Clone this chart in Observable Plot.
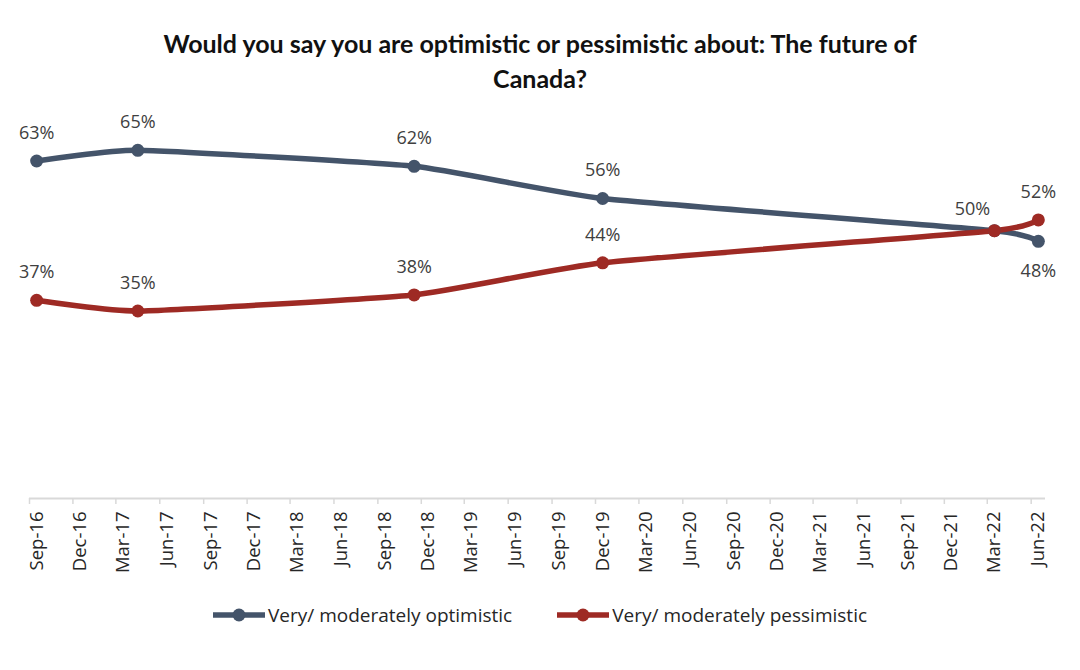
<!DOCTYPE html>
<html>
<head>
<meta charset="utf-8">
<script src="https://cdn.jsdelivr.net/npm/d3@7"></script>
<script src="https://cdn.jsdelivr.net/npm/@observablehq/plot@0.6"></script>
<style>
  html, body { margin: 0; padding: 0; background: #fff; }
  body { width: 1080px; height: 670px; overflow: hidden; font-family: "Open Sans", sans-serif; }
  .title {
    font-family: Lato, sans-serif; font-weight: bold; font-size: 25px; line-height: 35px;
    color: #111; text-align: center; padding-top: 26px; width: 1080px;
  }
  #chart svg { display: block; overflow: visible; }
  .legend {
    display: flex; justify-content: center; align-items: center; gap: 45px;
    font-size: 19px; color: #262626; margin-top: 14px;
  }
  .legend .item { display: flex; align-items: center; gap: 3px; }
  .legend svg { display: block; }
</style>
</head>
<body>
<div class="title">Would you say you are optimistic or pessimistic about: The future of<br>Canada?</div>
<div id="chart"></div>
<div class="legend" id="legend"></div>
<script>
// Survey waves (month of fieldwork) and share of respondents, %
const surveyMonths = ["2016-09", "2017-04", "2018-11", "2019-12", "2022-03", "2022-06"];
const optimistic   = [63, 65, 62, 56, 50, 48];
const pessimistic  = [37, 35, 38, 44, 50, 52];

const seriesNames  = ["Very/ moderately optimistic", "Very/ moderately pessimistic"];
const seriesColors = ["#44546a", "#9e2a24"];

// Quarterly axis labels
const tickLabels = [
  "Sep-16", "Dec-16", "Mar-17", "Jun-17", "Sep-17", "Dec-17", "Mar-18", "Jun-18",
  "Sep-18", "Dec-18", "Mar-19", "Jun-19", "Sep-19", "Dec-19", "Mar-20", "Jun-20",
  "Sep-20", "Dec-20", "Mar-21", "Jun-21", "Sep-21", "Dec-21", "Mar-22", "Jun-22"
];

const parseMonth = d3.utcParse("%Y-%m");
const parseLabel = d3.utcParse("%b-%y");
// each month is a band on the date axis; values sit in its middle
const midMonth = d => d3.utcDay.offset(d, 15);

const rows = surveyMonths.map((m, i) => ({
  date: midMonth(parseMonth(m)),
  optimistic: optimistic[i],
  pessimistic: pessimistic[i]
}));
const long = rows.flatMap(r => [
  {date: r.date, series: seriesNames[0], value: r.optimistic, tie: r.optimistic === r.pessimistic},
  {date: r.date, series: seriesNames[1], value: r.pessimistic, tie: r.optimistic === r.pessimistic}
]);
const last = rows[rows.length - 1].date;

const quarterStarts = tickLabels.map(parseLabel);
const labelDates = quarterStarts.map(midMonth);
const labelByTime = new Map(labelDates.map((d, i) => [+d, tickLabels[i]]));

const pct = d => `${d.value}%`;
const optRows = long.filter(d => d.series === seriesNames[0]);
const pesRows = long.filter(d => d.series === seriesNames[1]);
const labelStyle = {x: "date", y: "value", text: pct, fontSize: 18, fill: "#404040"};

const chart = Plot.plot({
  width: 1080,
  height: 492,
  marginLeft: 29,
  marginRight: 35,
  marginTop: 27,
  marginBottom: 90,
  style: {fontFamily: "Open Sans, sans-serif", background: "#fff", overflow: "visible"},
  x: {type: "utc", domain: [quarterStarts[0], d3.utcMonth.offset(quarterStarts[quarterStarts.length - 1], 1)]},
  y: {domain: [0, 70], axis: null},
  color: {domain: seriesNames, range: seriesColors},
  marks: [
    Plot.ruleY([0], {stroke: "#d9d9d9", strokeWidth: 2}),
    Plot.axisX({ticks: quarterStarts, tickSize: 6, tickFormat: () => "", stroke: "#d9d9d9", strokeWidth: 1.5, label: null}),
    Plot.axisX({
      ticks: labelDates, tickSize: 0, tickPadding: 13, tickRotate: -90,
      tickFormat: d => labelByTime.get(+d), fontSize: 18.5, fill: "#262626", label: null
    }),
    Plot.line(long, {x: "date", y: "value", z: "series", stroke: "series", strokeWidth: 5.5, curve: d3.curveCardinal.tension(0.55)}),
    Plot.dot(long, {x: "date", y: "value", fill: "series", r: 6.5}),
    // optimistic labels: above, last wave below; skip where both series coincide
    Plot.text(optRows.filter(d => !d.tie && +d.date !== +last), {...labelStyle, dy: -28}),
    Plot.text(optRows.filter(d => +d.date === +last), {...labelStyle, dy: 30}),
    // pessimistic labels: above; shifted left at the crossing point
    Plot.text(pesRows.filter(d => !d.tie), {...labelStyle, dy: -28}),
    Plot.text(pesRows.filter(d => d.tie), {...labelStyle, dx: -22, dy: -21})
  ]
});
document.getElementById("chart").append(chart);

// legend: line-with-marker swatches
const legend = document.getElementById("legend");
seriesNames.forEach((name, i) => {
  const item = document.createElement("div");
  item.className = "item";
  item.innerHTML =
    `<svg width="52" height="14"><line x1="1" y1="7" x2="51" y2="7" stroke="${seriesColors[i]}" stroke-width="5.5" stroke-linecap="round"/>` +
    `<circle cx="26" cy="7" r="6.5" fill="${seriesColors[i]}"/></svg><span>${name}</span>`;
  legend.append(item);
});
</script>
</body>
</html>
